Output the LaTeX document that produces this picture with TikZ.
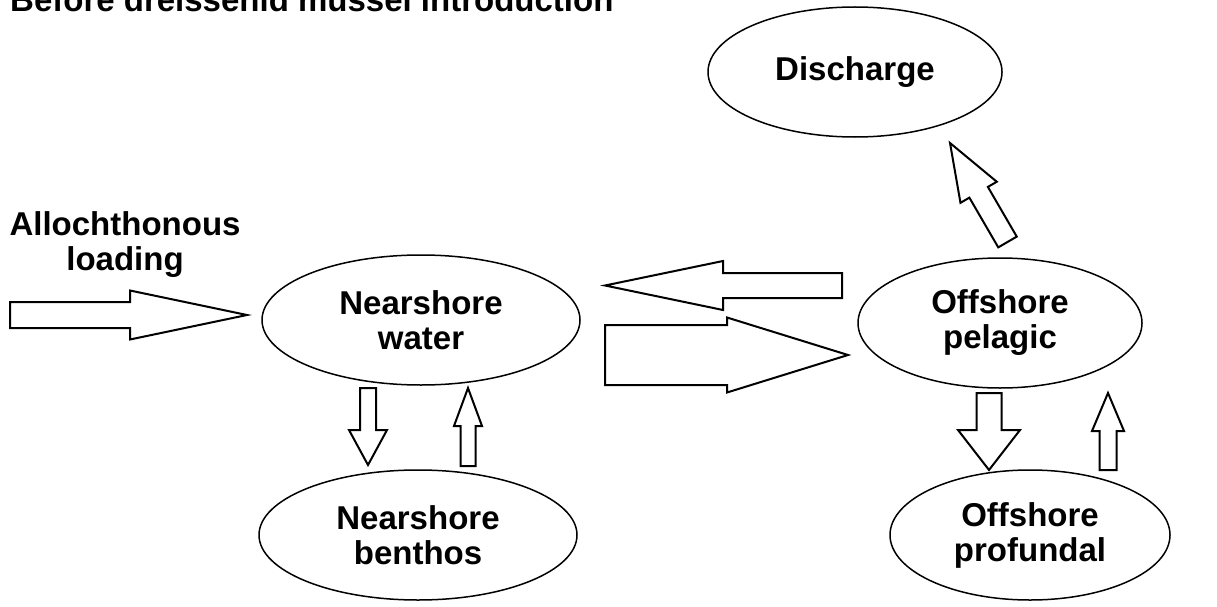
\documentclass[tikz,border=0pt]{standalone}
\usepackage{fontspec}
\setmainfont{Liberation Sans}
\usetikzlibrary{shapes.geometric,calc}

% block arrow from #1 (tail) to #2 (tip): shaft half width, head half width, head length
\newcommand{\blockarrow}[5]{%
  \coordinate (ba-h) at ($(#2)!#5!(#1)$);
  \draw[blockarr] ($(#1)!#3!90:(#2)$) -- ($(ba-h)!#3!-90:(#1)$) -- ($(ba-h)!#4!-90:(#1)$)
    -- (#2) -- ($(ba-h)!#4!90:(#1)$) -- ($(ba-h)!#3!90:(#1)$) -- ($(#1)!#3!-90:(#2)$) -- cycle;}

\begin{document}
\begin{tikzpicture}[
  x=1pt,y=-1pt,
  lbl/.style={font=\bfseries\fontsize{33}{35}\selectfont,align=center,inner sep=0pt},
  pool/.style={lbl,ellipse,draw,line width=1.5pt,minimum width=#1,minimum height=130pt},
  pool/.default=318pt,
  blockarr/.style={draw,line width=2pt,fill=white,line join=miter}
]
\useasboundingbox (0,0) rectangle (1217,607);
\node[lbl,anchor=base west] (title) at (10,12) {Before dreissenid mussel introduction};
\node[lbl] (loadlabel) at (125,245) {Allochthonous\\loading};

\node[pool] (nwater) at (421,320) {Nearshore\\water};
\node[pool] (nbenthos) at (418,535) {Nearshore\\benthos};
\node[pool=284pt] (opelagic) at (1000,323) {Offshore\\pelagic};
\node[pool=280pt] (oprofundal) at (1030,535) {Offshore\\profundal};
\node[pool=294pt] (discharge) at (855,72) {Discharge};

\coordinate (load-tail) at (10,315);
\coordinate (load-tip) at (247,315);
\coordinate (back-tail) at (842,285.5);
\coordinate (back-tip) at (605,285.5);
\coordinate (out-tail) at (605,355);
\coordinate (out-tip) at (848,355);
\coordinate (dis-tail) at (1007.5,242);
\coordinate (dis-tip) at (950,143);
\coordinate (nsdown-tail) at (368,388);
\coordinate (nsdown-tip) at (368,465);
\coordinate (nsup-tail) at (468,466);
\coordinate (nsup-tip) at (468,388);
\coordinate (osdown-tail) at (989,393);
\coordinate (osdown-tip) at (989,470);
\coordinate (osup-tail) at (1108,470);
\coordinate (osup-tip) at (1108,393);

\blockarrow{load-tail}{load-tip}{13pt}{24.5pt}{117pt}
\blockarrow{back-tail}{back-tip}{12.5pt}{24.5pt}{118pt}
\blockarrow{out-tail}{out-tip}{30pt}{37.5pt}{121pt}
\blockarrow{dis-tail}{dis-tip}{10.7pt}{21pt}{57pt}
\blockarrow{nsdown-tail}{nsdown-tip}{8pt}{19pt}{35pt}
\blockarrow{nsup-tail}{nsup-tip}{7.5pt}{14pt}{38pt}
\blockarrow{osdown-tail}{osdown-tip}{12.5pt}{31pt}{40pt}
\blockarrow{osup-tail}{osup-tip}{8.5pt}{16pt}{38pt}
\end{tikzpicture}
\end{document}
